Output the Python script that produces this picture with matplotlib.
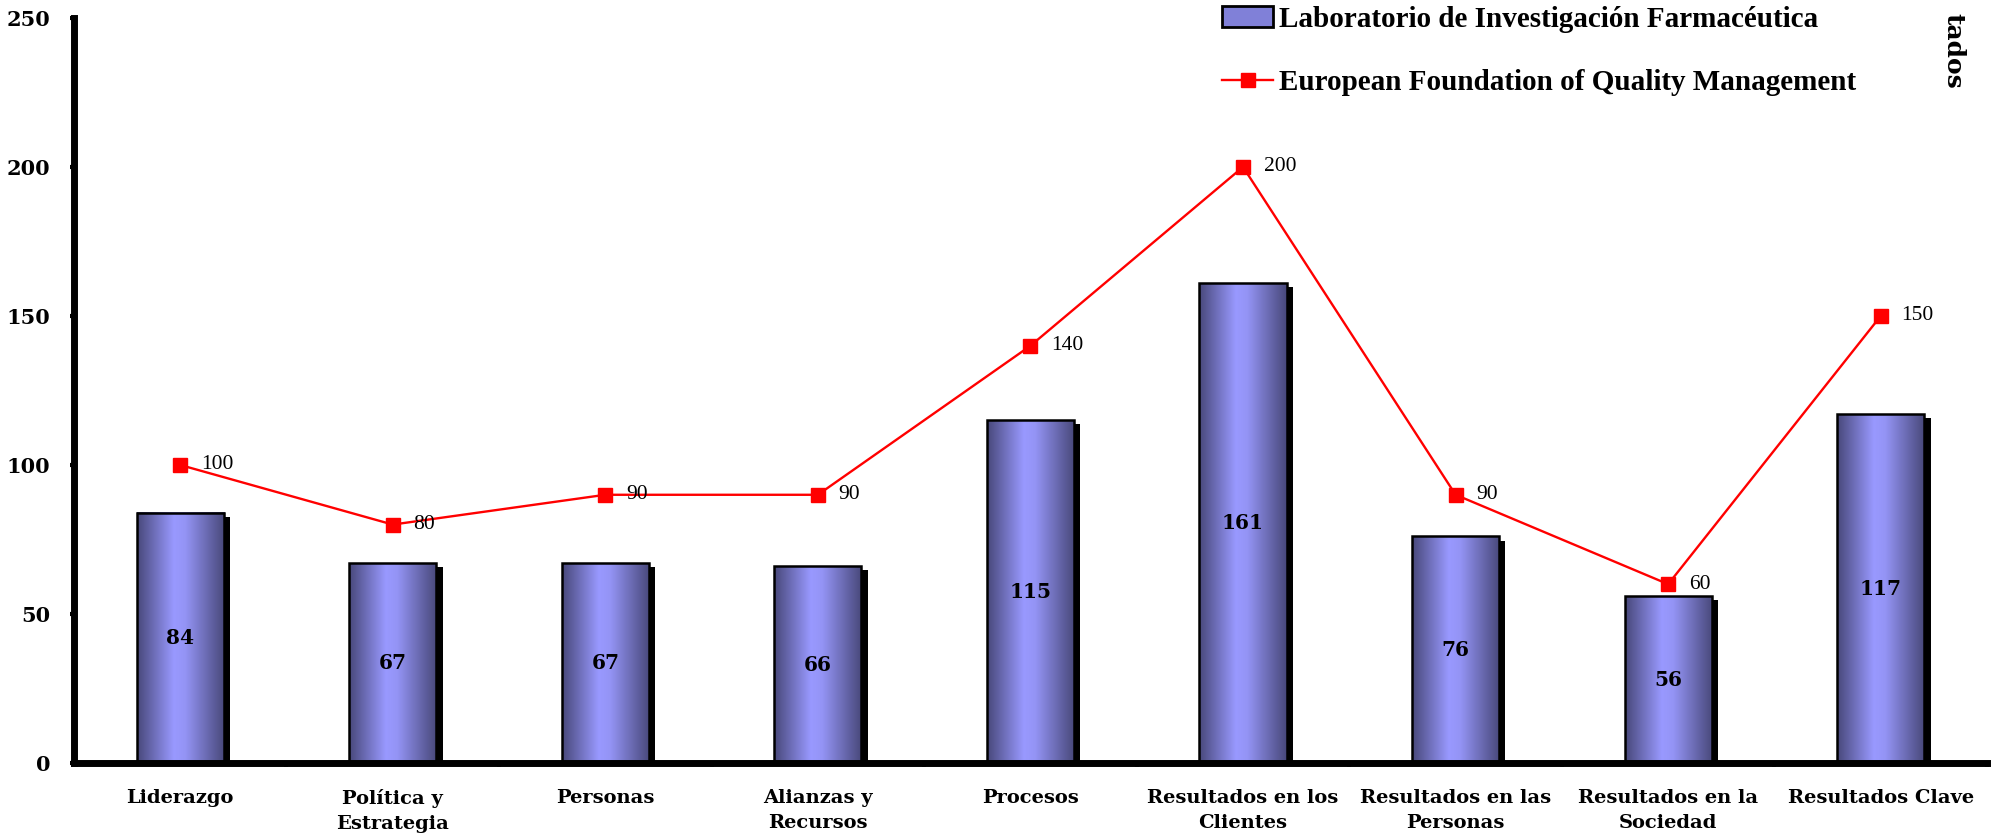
import numpy as np
import matplotlib
matplotlib.use('Agg')
import matplotlib.pyplot as plt
import matplotlib.patheffects as pe
from matplotlib.colors import LinearSegmentedColormap
from matplotlib.lines import Line2D
from matplotlib.patches import Patch

# Data
categories = ['Liderazgo', 'Política y\nEstrategia', 'Personas', 'Alianzas y\nRecursos',
              'Procesos', 'Resultados en los\nClientes', 'Resultados en las\nPersonas',
              'Resultados en la\nSociedad', 'Resultados Clave']
lab_values = [84, 67, 67, 66, 115, 161, 76, 56, 117]
efqm_values = [100, 80, 90, 90, 140, 200, 90, 60, 150]
y_ticks = [0, 50, 100, 150, 200, 250]

lab_name = 'Laboratorio de Investigación Farmacéutica'
efqm_name = 'European Foundation of Quality Management'

bold_serif = 'DejaVu Serif'
text_serif = 'Liberation Serif'

fig = plt.figure(figsize=(19.97, 8.39), dpi=100)
ax = fig.add_axes([0.037, 0.0906, 0.958, 0.888])

x = np.arange(len(categories))
width = 0.41

# shadows
ax.bar(x, lab_values, width=width, color='black', zorder=1,
       path_effects=[pe.SimplePatchShadow(offset=(4.5, -3), shadow_rgbFace='black', alpha=1)])

# gradient fill
cmap = LinearSegmentedColormap.from_list('cyl', [(0, '#48487a'), (0.42, '#9999ff'),
                                                 (0.55, '#9494f5'), (1, '#48487a')])
grad = np.linspace(0, 1, 256).reshape(1, -1)
for xi, v in zip(x, lab_values):
    ax.imshow(grad, cmap=cmap, extent=(xi - width / 2, xi + width / 2, 0, v),
              aspect='auto', zorder=2, interpolation='bilinear')

ax.bar(x, lab_values, width=width, facecolor='none', edgecolor='black', linewidth=1.8, zorder=3)

for xi, v in zip(x, lab_values):
    ax.text(xi, v / 2, str(v), ha='center', va='center', fontsize=14.5,
            fontweight='bold', family=bold_serif, zorder=5)

# EFQM line
ax.plot(x, efqm_values, color='#ff0000', linewidth=1.7, marker='s', markersize=10.5,
        markerfacecolor='#ff0000', markeredgecolor='#ff0000', zorder=4)
for xi, v in zip(x, efqm_values):
    ax.annotate(str(v), (xi, v), xytext=(15, 0), textcoords='offset points',
                ha='left', va='center', fontsize=15.5, family=text_serif, zorder=5)

ax.set_xlim(-0.5, len(categories) - 0.5)
ax.set_ylim(0, 250)
ax.set_yticks(y_ticks)
ax.set_yticklabels([str(t) for t in y_ticks], fontsize=15, fontweight='bold', family=bold_serif)
ax.set_xticks(x)
ax.set_xticklabels(categories, fontsize=14, fontweight='bold', family=bold_serif, linespacing=1.5)
ax.set_xticks(np.arange(len(categories)) + 0.5, minor=True)
ax.tick_params(axis='x', which='major', length=0, pad=19)
ax.tick_params(axis='x', which='minor', length=3, width=3, direction='out')
ax.tick_params(axis='y', length=3, width=3, direction='out', pad=14)

for s in ['top', 'right']:
    ax.spines[s].set_visible(False)
for s in ['left', 'bottom']:
    ax.spines[s].set_linewidth(5)
    ax.spines[s].set_zorder(6)

handles = [Patch(facecolor='#8080d8', edgecolor='black', linewidth=2),
           Line2D([0], [0], color='#ff0000', linewidth=1.7, marker='s', markersize=10.5)]
fig.legend(handles, [lab_name, efqm_name], loc='upper left', bbox_to_anchor=(0.612, 0.993),
           frameon=False, handlelength=1.75, handletextpad=0.2, labelspacing=1.25,
           borderpad=0, borderaxespad=0,
           prop={'family': text_serif, 'weight': 'bold', 'size': 21})

fig.text(0.978, 0.985, 'tados', rotation=270, ha='center', va='top', fontsize=18,
         fontweight='bold', family=bold_serif)

fig.savefig('out.png', dpi=100)
